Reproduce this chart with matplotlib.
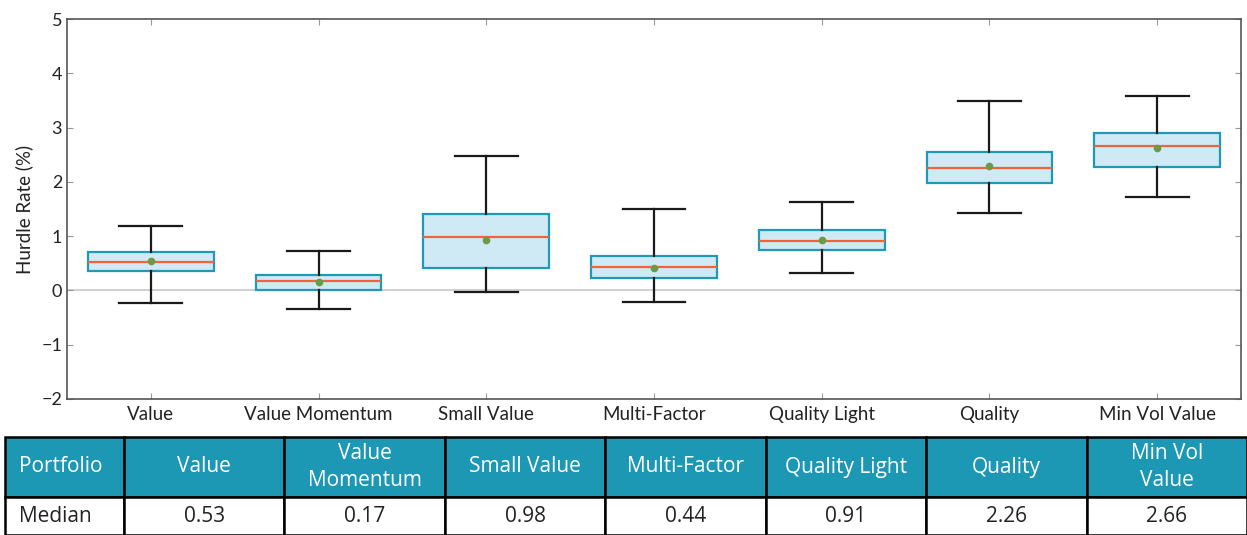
import matplotlib
matplotlib.use("Agg")
import matplotlib.pyplot as plt

# Hurdle rate distribution per portfolio (%)
portfolios = ["Value", "Value Momentum", "Small Value", "Multi-Factor",
              "Quality Light", "Quality", "Min Vol Value"]
table_headers = ["Portfolio", "Value", "Value\nMomentum", "Small Value", "Multi-Factor",
                 "Quality Light", "Quality", "Min Vol\nValue"]
medians = [0.53, 0.17, 0.98, 0.44, 0.91, 2.26, 2.66]
means = [0.55, 0.15, 0.93, 0.42, 0.93, 2.30, 2.62]
q1 = [0.35, 0.01, 0.41, 0.22, 0.75, 1.97, 2.28]
q3 = [0.71, 0.28, 1.41, 0.63, 1.12, 2.55, 2.90]
whisker_lo = [-0.23, -0.35, -0.03, -0.22, 0.33, 1.43, 1.73]
whisker_hi = [1.18, 0.73, 2.48, 1.50, 1.63, 3.49, 3.58]

BOX_EDGE = "#1e9ab6"
BOX_FILL = "#cfeaf5"
MEDIAN_C = "#f0643a"
MEAN_C = "#6e9a48"
HEADER_C = "#1c98b4"

plt.rcParams["font.family"] = ["Lato", "DejaVu Sans"]

fig = plt.figure(figsize=(12.47, 5.35), dpi=100)
ax = fig.add_axes([67 / 1247, 1 - 399 / 535, 1174 / 1247, 380 / 535])

stats = []
for i, name in enumerate(portfolios):
    stats.append({
        "label": name, "med": medians[i], "mean": means[i],
        "q1": q1[i], "q3": q3[i],
        "whislo": whisker_lo[i], "whishi": whisker_hi[i], "fliers": [],
    })

ax.axhline(0, color="#c8c8c8", lw=1.2, zorder=0)
ax.bxp(stats, widths=0.75, showmeans=True, patch_artist=True,
       boxprops=dict(facecolor=BOX_FILL, edgecolor=BOX_EDGE, lw=1.6),
       medianprops=dict(color=MEDIAN_C, lw=1.6),
       meanprops=dict(marker="o", markersize=4.5, markerfacecolor=MEAN_C,
                      markeredgecolor=MEAN_C),
       whiskerprops=dict(color="#1a1a1a", lw=1.6),
       capprops=dict(color="#1a1a1a", lw=1.6))

ax.set_xlim(0.5, 7.5)
ax.set_ylim(-2, 5)
ax.set_yticks(range(-2, 6))
ax.set_ylabel("Hurdle Rate (%)", fontsize=13.5, color="#222222", labelpad=6)
ax.tick_params(direction="in", top=True, right=True, length=4, color="#999999",
               labelsize=13, labelcolor="#222222")
ax.tick_params(axis="x", pad=5, labelsize=13.5)
for sp in ax.spines.values():
    sp.set_color("#555555")
    sp.set_linewidth(1.2)

# Summary table of medians beneath the chart
tax = fig.add_axes([5 / 1247, 0, 1242 / 1247, 98 / 535])
tax.axis("off")
row_vals = ["Median"] + [f"{m:.2f}" for m in medians]
col_w = [119] + [160.4] * 7
tbl = tax.table(cellText=[table_headers, row_vals], colWidths=col_w,
                cellLoc="center", bbox=[0, 0, 1, 1])
tbl.auto_set_font_size(False)
for (r, c), cell in tbl.get_celld().items():
    cell.set_edgecolor("black")
    cell.set_linewidth(1.8)
    cell.set_height(60 if r == 0 else 38)
    txt = cell.get_text()
    txt.set_fontfamily(["Open Sans", "DejaVu Sans"])
    txt.set_fontsize(15)
    txt.set_linespacing(1.4)
    if r == 0:
        cell.set_facecolor(HEADER_C)
        txt.set_color("white")
    else:
        cell.set_facecolor("white")
        txt.set_color("#222222")
    if c == 0:
        cell.set_text_props(ha="left")
        cell.PAD = 0.12

fig.savefig("out.png", dpi=100)
